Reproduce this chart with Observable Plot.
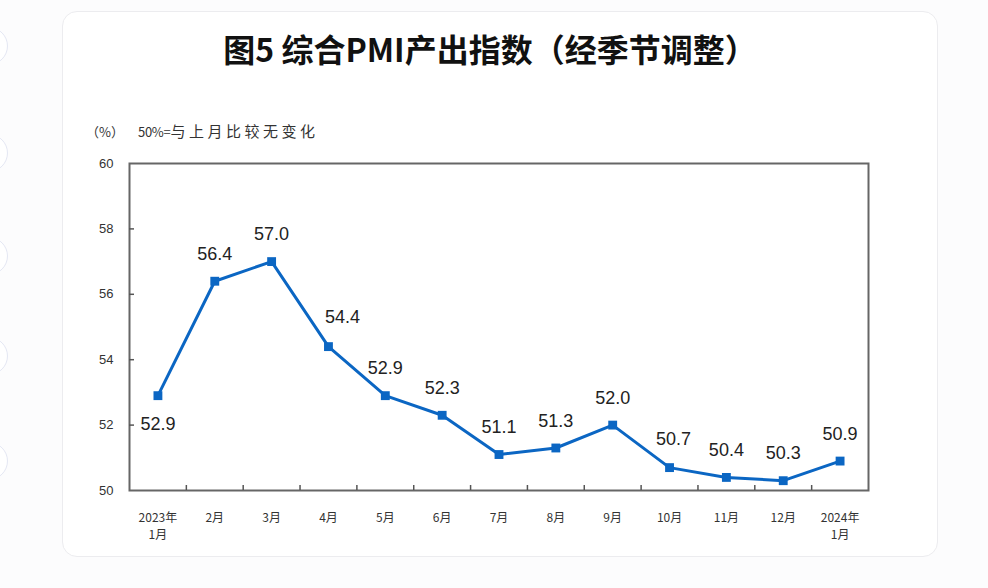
<!DOCTYPE html>
<html>
<head>
<meta charset="utf-8">
<script src="https://cdn.jsdelivr.net/npm/d3@7"></script>
<script src="https://cdn.jsdelivr.net/npm/@observablehq/plot@0.6"></script>
<style>
  html, body { margin: 0; padding: 0; background: #fcfcfd; width: 988px; height: 588px; overflow: hidden; }
  #page { position: relative; width: 988px; height: 588px; }
  .deco { position: absolute; left: -30px; width: 36px; height: 36px; border-radius: 50%; border: 1px solid #e4e7f3; background: #fff; }
  #card { position: absolute; left: 62px; top: 11px; width: 874px; height: 544px; background: #fff; border: 1px solid #ececef; border-radius: 15px; }
  #title { position: absolute; left: 0; width: 980px; top: 27px; text-align: center; font-family: "Noto Sans CJK SC", sans-serif; font-weight: 700; font-size: 32px; color: #111; line-height: 42px; }
  #sub { position: absolute; left: 86px; top: 120px; font-family: "Noto Sans CJK SC", sans-serif; color: #333; white-space: pre; line-height: 20px; }
  #sub .p { font-size: 13px; }
  #sub .n { font-size: 13px; margin-left: 14px; letter-spacing: -0.3px; }
  #sub .c { font-size: 15px; letter-spacing: 3.5px; }
  #chart { position: absolute; left: 0; top: 140px; }
</style>
</head>
<body>
<div id="page">
  <div class="deco" style="top:27px"></div>
  <div class="deco" style="top:134px"></div>
  <div class="deco" style="top:237px"></div>
  <div class="deco" style="top:337px"></div>
  <div class="deco" style="top:442px"></div>
  <div id="card"></div>
  <div id="title">图5 综合PMI产出指数（经季节调整）</div>
  <div id="sub"><span class="p">（%）</span><span class="n">50%=</span><span class="c">与上月比较无变化</span></div>
  <div id="chart"></div>
</div>
<script>
const months = ["2023年\n1月","2月","3月","4月","5月","6月","7月","8月","9月","10月","11月","12月","2024年\n1月"];
const values = [52.9, 56.4, 57.0, 54.4, 52.9, 52.3, 51.1, 51.3, 52.0, 50.7, 50.4, 50.3, 50.9];
const yTicks = [50, 52, 54, 56, 58, 60];

const data = values.map((v, i) => ({i, v, label: v.toFixed(1)}));
const blue = "#0b66c3";
const idx = months.map((_, i) => i);
const boundaries = idx.slice(1).map(i => i - 0.5);

// label placement groups (the original puts the first label under its point,
// and nudges two crowded labels to the right)
const belowSet = new Set([0]);
const nudge14 = new Set([3]);
const nudge4 = new Set([9]);
const plain = data.filter(d => !belowSet.has(d.i) && !nudge14.has(d.i) && !nudge4.has(d.i));

const labelStyle = {x: "i", y: "v", text: "label", fontSize: 18, fontFamily: "Liberation Sans, Arial, sans-serif", fill: "#222"};

const chart = Plot.plot({
  width: 988,
  height: 420,
  marginLeft: 129,
  marginRight: 120,
  marginTop: 23,
  marginBottom: 70,
  style: {background: "transparent", color: "#333"},
  x: {type: "linear", domain: [-0.5, 12.5], axis: null, label: null},
  y: {domain: [50, 60], axis: null, label: null},
  marks: [
    Plot.frame({stroke: "#666", strokeWidth: 2}),
    Plot.axisY({ticks: yTicks, tickSize: 0, tickPadding: 16, label: null, fontSize: 13, fontFamily: "Liberation Sans, Arial, sans-serif", fill: "#333"}),
    Plot.axisY({ticks: yTicks.slice(1, -1), tickSize: 5, dx: 5, label: null, tickFormat: () => "", stroke: "#555", strokeWidth: 1.5}),
    Plot.axisX({ticks: boundaries, tickSize: 5, dy: -5, label: null, tickFormat: () => "", stroke: "#555", strokeWidth: 1.5}),
    Plot.text(idx, {x: d => d, y: () => 50, text: d => months[d], dy: 19, lineAnchor: "top", lineHeight: 1.45, fontSize: 12, fontFamily: "Noto Sans CJK SC, sans-serif", fill: "#333"}),
    Plot.line(data, {x: "i", y: "v", stroke: blue, strokeWidth: 3}),
    Plot.dot(data, {x: "i", y: "v", symbol: "square", r: 5, fill: blue, stroke: "none"}),
    Plot.text(plain, {...labelStyle, dy: -27}),
    Plot.text(data.filter(d => nudge14.has(d.i)), {...labelStyle, dy: -29, dx: 14}),
    Plot.text(data.filter(d => nudge4.has(d.i)), {...labelStyle, dy: -28, dx: 4}),
    Plot.text(data.filter(d => belowSet.has(d.i)), {...labelStyle, dy: 29}),
  ]
});
document.getElementById("chart").appendChild(chart);
</script>
</body>
</html>
